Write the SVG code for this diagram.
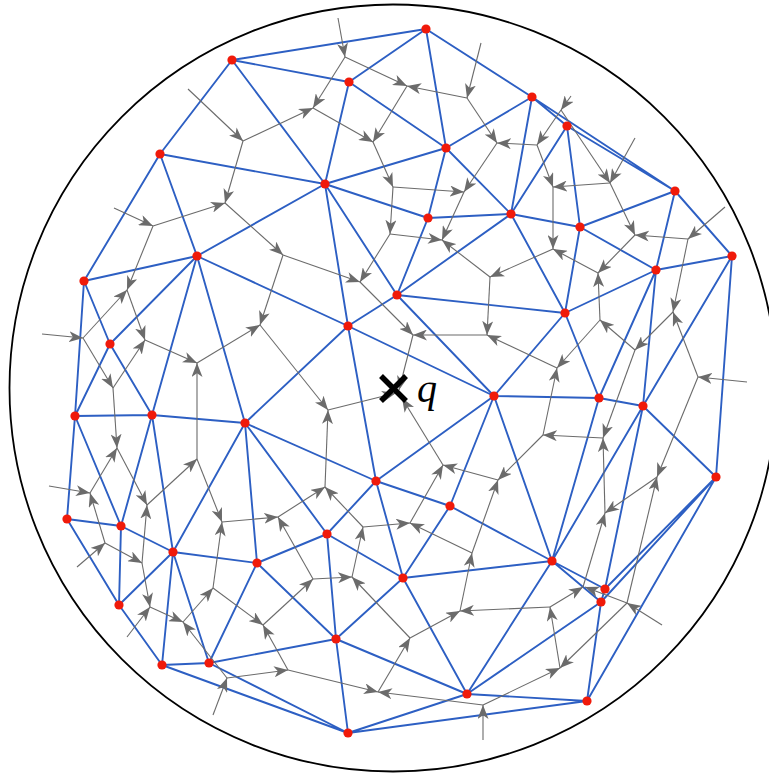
<svg xmlns="http://www.w3.org/2000/svg" width="769" height="776" viewBox="0 0 769 776">
<defs>
<marker id="ah" markerUnits="userSpaceOnUse" markerWidth="15" markerHeight="11" refX="14" refY="5.5" orient="auto">
<path d="M0,0 L14,5.5 L0,11 L3.8,5.5 z" fill="#6b6b6b"/>
</marker>
<style>
.e{stroke:#2d5fc3;stroke-width:1.9;fill:none}
.g{stroke:#6b6b6b;stroke-width:1.1;fill:none;marker-end:url(#ah)}
.p{fill:#f01a0a}
</style>
</defs>
<rect width="769" height="776" fill="#fff"/>
<circle cx="393" cy="388" r="383.5" fill="none" stroke="#000" stroke-width="1.8"/>
<g id="delaunay" class="e">
<path d="M232,60L426,29M232,60L349,82M232,60L160,154M232,60L325,184M426,29L349,82M426,29L446,148M426,29L532,97M349,82L325,184M349,82L446,148M532,97L446,148M532,97L567,126M532,97L511,214M532,97L675,191M567,126L511,214M567,126L580,227M567,126L675,191M160,154L325,184M160,154L197,256M160,154L84,281M325,184L446,148M325,184L197,256M325,184L428,218M325,184L348,326M325,184L397,295M446,148L428,218M446,148L511,214M428,218L511,214M428,218L397,295M511,214L397,295M511,214L580,227M511,214L565,313M580,227L565,313M580,227L675,191M580,227L656,270M675,191L656,270M675,191L732,256M732,256L656,270M656,270L565,313M656,270L643,406M656,270L599,398M732,256L643,406M732,256L716,477M397,295L565,313M397,295L348,326M397,295L494,396M565,313L494,396M565,313L599,398M494,396L599,398M599,398L643,406M643,406L716,477"/>
<path d="M197,256L348,326M197,256L84,281M197,256L110,344M197,256L152,415M197,256L245,423M84,281L110,344M84,281L75,416M110,344L75,416M110,344L152,415M75,416L152,415M152,415L245,423M348,326L245,423M348,326L494,396M348,326L376,481M245,423L376,481M494,396L376,481M494,396L450,506M494,396L552,561M599,398L552,561M643,406L552,561M643,406L605,589M716,477L605,589M716,477L601,602M716,477L587,701M552,561L605,589M552,561L601,602M605,589L601,602M552,561L450,506M552,561L403,578M552,561L467,694M467,694L601,602M587,701L601,602M467,694L587,701M348,733L587,701M348,733L467,694M348,733L336,639M348,733L209,663M348,733L162,665"/>
<path d="M336,639L467,694M336,639L403,578M336,639L327,534M336,639L257,563M336,639L209,663M403,578L467,694M403,578L450,506M403,578L376,481M403,578L327,534M450,506L376,481M327,534L376,481M327,534L257,563M327,534L245,423M257,563L245,423M257,563L173,552M257,563L209,663M173,552L245,423M173,552L152,415M173,552L121,526M173,552L119,605M173,552L162,665M173,552L209,663M152,415L121,526M75,416L121,526M75,416L67,519M67,519L121,526M67,519L119,605M121,526L119,605M119,605L162,665M162,665L209,663"/>
</g>
<g id="flow" class="g">
<path d="M188,89L243,141"/><path d="M338,18L345,57"/><path d="M345,57L313,108"/><path d="M345,57L407,86"/><path d="M243,141L313,108"/><path d="M313,108L373,142"/><path d="M407,86L373,142"/><path d="M467,98L407,86"/><path d="M481,43L467,98"/><path d="M467,98L497,143"/><path d="M537,145L497,143"/><path d="M373,142L393,187"/><path d="M393,187L464,192"/><path d="M497,143L464,192"/><path d="M571,96L561,110"/><path d="M561,110L537,145"/><path d="M561,110L610,183"/><path d="M635,138L610,183"/><path d="M610,183L553,187"/><path d="M537,145L553,187"/><path d="M243,141L225,203"/><path d="M114,208L153,226"/><path d="M153,226L225,203"/><path d="M225,203L283,255"/><path d="M153,226L127,290"/><path d="M42,334L83,338"/><path d="M83,338L127,290"/><path d="M83,338L113,388"/><path d="M127,290L145,340"/><path d="M145,340L197,363"/><path d="M113,388L145,340"/><path d="M113,388L117,448"/><path d="M197,363L260,325"/><path d="M283,255L260,325"/><path d="M197,459L197,363"/><path d="M147,505L197,459"/><path d="M197,459L222,522"/><path d="M260,325L328,410"/><path d="M328,410L396,393"/><path d="M283,255L360,282"/><path d="M390,234L360,282"/><path d="M360,282L413,335"/><path d="M413,335L399,390"/><path d="M487,335L413,335"/><path d="M490,277L487,335"/><path d="M557,368L487,335"/><path d="M553,249L490,277"/><path d="M490,277L442,240"/><path d="M390,234L442,240"/><path d="M464,192L442,240"/><path d="M393,187L390,234"/><path d="M553,187L553,249"/><path d="M598,273L553,249"/><path d="M635,235L598,273"/><path d="M600,320L598,273"/><path d="M688,239L635,235"/><path d="M610,183L635,235"/><path d="M725,207L688,239"/><path d="M688,239L673,312"/><path d="M698,377L673,312"/><path d="M673,312L635,350"/><path d="M635,350L600,320"/><path d="M600,320L557,368"/><path d="M543,435L557,368"/><path d="M747,382L698,377"/><path d="M698,377L657,477"/><path d="M635,350L603,438"/><path d="M603,438L543,435"/><path d="M605,513L603,438"/><path d="M657,477L605,513"/><path d="M583,587L605,513"/><path d="M627,603L657,477"/><path d="M543,435L498,480"/><path d="M498,480L443,465"/><path d="M443,465L402,398"/><path d="M472,553L498,480"/><path d="M472,553L410,523"/><path d="M410,523L443,465"/><path d="M363,527L410,523"/><path d="M363,527L325,487"/><path d="M325,487L328,410"/><path d="M278,517L325,487"/><path d="M222,522L278,517"/><path d="M313,579L278,517"/><path d="M313,579L352,577"/><path d="M352,577L363,527"/><path d="M410,638L352,577"/><path d="M263,625L313,579"/><path d="M213,588L263,625"/><path d="M288,670L263,625"/><path d="M227,678L288,670"/><path d="M288,670L378,692"/><path d="M483,705L378,692"/><path d="M378,692L410,638"/><path d="M410,638L460,611"/><path d="M550,607L460,611"/><path d="M460,611L472,553"/><path d="M483,740L483,705"/><path d="M483,705L560,668"/><path d="M560,668L550,607"/><path d="M627,603L560,668"/><path d="M550,607L583,587"/><path d="M662,625L627,603"/><path d="M627,603L585,587"/><path d="M49,486L90,493"/><path d="M90,493L117,448"/><path d="M117,448L147,505"/><path d="M105,543L90,493"/><path d="M77,567L105,543"/><path d="M105,543L142,563"/><path d="M142,563L147,505"/><path d="M142,563L150,607"/><path d="M127,637L150,607"/><path d="M150,607L183,622"/><path d="M227,678L183,622"/><path d="M183,622L213,588"/><path d="M213,588L222,522"/><path d="M213,715L227,678"/>
</g>
<g id="sites" class="p">
<g id="nA"><circle cx="232" cy="60" r="4.6"/></g>
<g id="nB"><circle cx="426" cy="29" r="4.6"/></g>
<g id="nC"><circle cx="349" cy="82" r="4.6"/></g>
<g id="nD"><circle cx="532" cy="97" r="4.6"/></g>
<g id="nE"><circle cx="567" cy="126" r="4.6"/></g>
<g id="nF"><circle cx="160" cy="154" r="4.6"/></g>
<g id="nG"><circle cx="446" cy="148" r="4.6"/></g>
<g id="nH"><circle cx="325" cy="184" r="4.6"/></g>
<g id="nI"><circle cx="675" cy="191" r="4.6"/></g>
<g id="nJ"><circle cx="428" cy="218" r="4.6"/></g>
<g id="nK"><circle cx="511" cy="214" r="4.6"/></g>
<g id="nL"><circle cx="580" cy="227" r="4.6"/></g>
<g id="nM"><circle cx="197" cy="256" r="4.6"/></g>
<g id="nN"><circle cx="732" cy="256" r="4.6"/></g>
<g id="nO"><circle cx="656" cy="270" r="4.6"/></g>
<g id="nP"><circle cx="84" cy="281" r="4.6"/></g>
<g id="nQ"><circle cx="397" cy="295" r="4.6"/></g>
<g id="nR"><circle cx="565" cy="313" r="4.6"/></g>
<g id="nS"><circle cx="348" cy="326" r="4.6"/></g>
<g id="nT"><circle cx="110" cy="344" r="4.6"/></g>
<g id="nU"><circle cx="494" cy="396" r="4.6"/></g>
<g id="nV"><circle cx="599" cy="398" r="4.6"/></g>
<g id="nW"><circle cx="643" cy="406" r="4.6"/></g>
<g id="nX"><circle cx="75" cy="416" r="4.6"/></g>
<g id="nY"><circle cx="152" cy="415" r="4.6"/></g>
<g id="nZ"><circle cx="245" cy="423" r="4.6"/></g>
<g id="na"><circle cx="716" cy="477" r="4.6"/></g>
<g id="nb"><circle cx="376" cy="481" r="4.6"/></g>
<g id="nc"><circle cx="450" cy="506" r="4.6"/></g>
<g id="nd"><circle cx="67" cy="519" r="4.6"/></g>
<g id="ne"><circle cx="121" cy="526" r="4.6"/></g>
<g id="nf"><circle cx="327" cy="534" r="4.6"/></g>
<g id="ng"><circle cx="173" cy="552" r="4.6"/></g>
<g id="nh"><circle cx="257" cy="563" r="4.6"/></g>
<g id="ni"><circle cx="552" cy="561" r="4.6"/></g>
<g id="nj"><circle cx="403" cy="578" r="4.6"/></g>
<g id="nk"><circle cx="605" cy="589" r="4.6"/></g>
<g id="nl"><circle cx="601" cy="602" r="4.6"/></g>
<g id="nm"><circle cx="119" cy="605" r="4.6"/></g>
<g id="nn"><circle cx="336" cy="639" r="4.6"/></g>
<g id="no"><circle cx="162" cy="665" r="4.6"/></g>
<g id="np"><circle cx="209" cy="663" r="4.6"/></g>
<g id="nq"><circle cx="467" cy="694" r="4.6"/></g>
<g id="nr"><circle cx="587" cy="701" r="4.6"/></g>
<g id="ns"><circle cx="348" cy="733" r="4.6"/></g>
</g>
<g id="query">
<path d="M381,376L406,401M406,376L381,401" stroke="#000" stroke-width="5.5" stroke-linecap="butt"/>
<text x="417" y="402" font-family="'Liberation Serif', serif" font-style="italic" font-size="40" fill="#000">q</text>
</g>
</svg>
